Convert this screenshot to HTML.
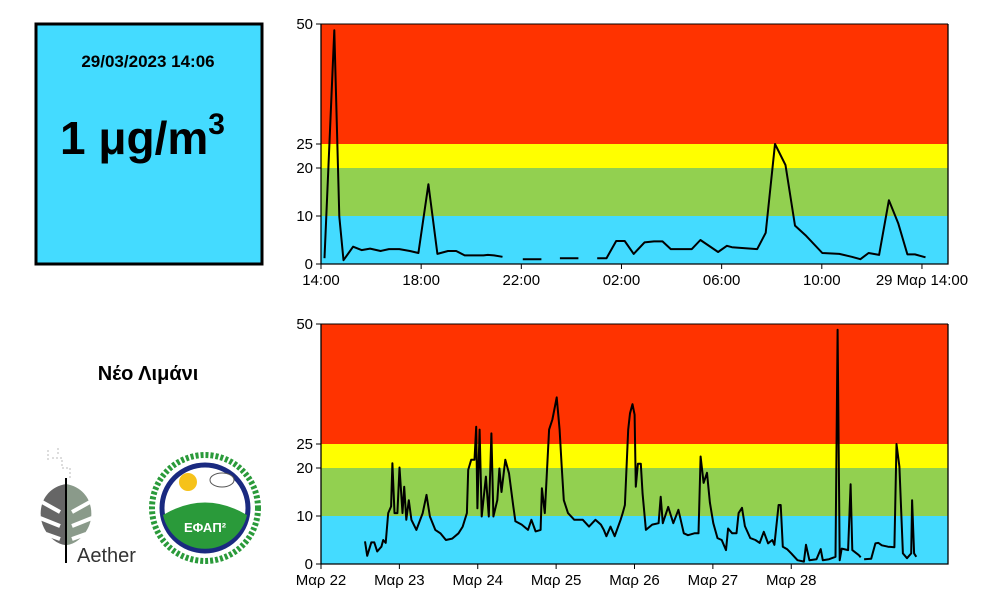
<!DOCTYPE html>
<html><head><meta charset="utf-8">
<style>
body{margin:0;width:1000px;height:600px;background:#fff;overflow:hidden;font-family:"Liberation Sans",sans-serif;}
svg text{font-family:"Liberation Sans","DejaVu Sans",sans-serif;}
</style></head>
<body>
<svg id="svg" width="1000" height="600" xmlns="http://www.w3.org/2000/svg">
  <g>
    <rect x="36" y="24" width="226" height="240" fill="#44dbff" stroke="#000" stroke-width="3"/>
    <text x="148" y="67" font-size="17" font-weight="bold" text-anchor="middle">29/03/2023 14:06</text>
    <text x="60" y="154" font-size="46" font-weight="bold">1 μg/m<tspan font-size="30" dy="-20">3</tspan></text>
  </g>
  <text x="148" y="380" font-size="20" font-weight="bold" text-anchor="middle">Νέο Λιμάνι</text>
  <g>
    <g stroke="#bbb" stroke-width="1" stroke-dasharray="2,2" fill="none">
      <path d="M48 450 v12 M52 458 h10 v8 M58 448 v8 M62 468 h8 v10"/>
    </g>
    <path d="M66 484 C42 488 36 512 44 528 C50 540 60 545 66 545 Z" fill="#666"/>
    <path d="M66 484 C90 488 96 512 88 528 C82 540 72 545 66 545 Z" fill="#8a9a8a"/>
    <g stroke="#fff" stroke-width="4" fill="none">
      <path d="M42 502 L60 512 M40 518 L60 526 M46 534 L60 539 M90 502 L72 512 M92 518 L72 526 M86 534 L72 539"/>
    </g>
    <line x1="66" y1="478" x2="66" y2="563" stroke="#000" stroke-width="2"/>
    <text x="77" y="562" font-size="20" fill="#333">Aether</text>
  </g>
  <g>
    <circle cx="205" cy="508" r="43" fill="#fff" stroke="#1a2a80" stroke-width="5"/>
    <path d="M163 515 Q205 490 247 515 A43 43 0 0 1 163 515 Z" fill="#2a9a3a"/>
    <circle cx="188" cy="482" r="9" fill="#f6c21a"/>
    <ellipse cx="222" cy="480" rx="12" ry="7" fill="#fff" stroke="#555" stroke-width="1"/>
    <text x="205" y="532" font-size="13" font-weight="bold" fill="#fff" text-anchor="middle">ΕΦΑΠ²</text>
    <circle cx="205" cy="508" r="53" fill="none" stroke="#2a9a3a" stroke-width="6" stroke-dasharray="3,2"/>
  </g>
  <g id="top"></g>
  <g id="bot"></g>
</svg>
<script>
// Top chart data: hours after 14:00 (28 Mar) and PM values (null = gap)
const topHours = [0.14,0.53,0.73,0.90,1.28,1.62,1.96,2.38,2.71,3.13,3.55,3.89,4.29,4.65,5.07,5.40,5.74,6.49,6.66,6.91,7.25,null,8.06,8.80,null,9.54,10.28,null,11.03,11.40,11.79,12.13,12.49,12.92,13.30,13.64,13.97,14.81,15.15,15.86,16.21,16.41,17.42,17.76,18.13,18.55,18.93,19.35,20.02,20.70,21.20,21.54,21.87,22.29,22.68,23.05,23.42,23.72,24.14];
const topValues = [1.2,48.7,9.9,0.8,3.6,2.9,3.2,2.7,3.1,3.1,2.7,2.3,16.6,2.1,2.7,2.7,1.8,1.8,1.9,1.8,1.5,null,1.0,1.0,null,1.2,1.2,null,1.2,1.2,4.8,4.8,2.1,4.5,4.7,4.7,3.1,3.1,5.0,2.5,3.8,3.5,3.1,6.5,25.0,20.6,8.0,6.0,2.3,2.1,1.5,1.0,2.3,1.9,13.3,8.5,2.0,2.0,1.4];
const topTickHours = [0,4,8,12,16,20,24];
const topTickLabels = ["14:00","18:00","22:00","02:00","06:00","10:00","29 Μαρ 14:00"];
// Bottom chart data: days after 22 Mar 00:00
const botDays = [0.562,0.589,0.642,0.680,0.717,0.771,0.793,0.825,0.857,0.895,0.911,0.938,0.975,1.002,1.040,1.061,1.088,1.120,1.153,1.217,1.298,1.346,1.389,1.459,1.524,1.593,1.674,1.755,1.808,1.862,1.878,1.916,1.959,1.980,1.996,2.023,2.050,2.104,2.141,2.174,2.200,2.249,2.276,2.303,2.351,2.399,2.453,2.480,2.561,2.641,2.684,2.738,2.802,2.818,2.856,2.910,2.953,3.007,3.044,3.071,3.098,3.152,3.232,3.340,3.420,3.501,3.571,3.608,3.641,3.694,3.748,3.823,3.850,3.877,3.920,3.942,3.974,4.001,4.017,4.044,4.081,4.103,4.146,4.226,4.307,4.334,4.361,4.430,4.495,4.560,4.629,4.683,4.764,4.817,4.844,4.882,4.925,4.962,5.005,5.059,5.113,5.167,5.194,5.247,5.301,5.328,5.371,5.409,5.478,5.543,5.597,5.650,5.704,5.758,5.785,5.838,5.865,5.892,5.946,6.000,6.080,6.161,6.188,6.231,6.322,6.376,6.403,6.483,6.564,6.591,6.618,6.644,6.725,6.757,6.779,6.859,6.886,null,6.929,7.020,7.074,7.112,7.155,7.235,7.316,7.343,7.380,7.424,7.477,7.531,7.542,7.568,7.595];
const botValues = [4.7,1.7,4.5,4.5,2.6,3.6,5.0,4.4,10.6,12.0,21.0,10.6,10.6,20.1,10.6,16.1,9.2,13.3,9.2,7.1,10.6,14.4,9.9,7.1,6.4,5.0,5.3,6.4,7.8,10.6,19.6,21.7,21.7,28.6,11.6,28.0,9.9,18.2,9.9,27.2,9.9,13.3,19.9,15.0,21.7,18.9,12.0,8.9,8.2,7.1,9.2,6.8,7.1,15.8,10.6,28.0,30.1,34.7,28.0,20.3,13.3,10.6,9.2,9.2,7.8,9.2,8.2,7.1,5.8,7.8,5.8,9.2,10.6,12.3,28.0,31.4,33.3,31.1,16.1,20.9,20.9,14.6,7.1,8.2,8.5,14.0,8.5,11.9,8.5,11.3,6.4,6.0,6.4,6.4,22.4,16.9,19.0,12.8,8.5,5.4,5.0,2.9,7.4,6.4,6.4,10.6,11.7,7.9,5.4,5.0,4.4,6.7,4.3,5.0,4.0,12.3,12.3,3.6,3.1,2.2,0.8,0.5,4.0,0.8,1.0,3.1,0.8,1.0,1.5,48.8,0.8,3.2,2.9,16.6,2.9,1.9,1.4,null,1.0,1.1,4.3,4.4,3.9,3.6,3.5,25.0,20.3,2.2,1.2,2.2,13.3,2.2,1.5];
const botTickDays = [0,1,2,3,4,5,6];
const botTickLabels = ["Μαρ 22","Μαρ 23","Μαρ 24","Μαρ 25","Μαρ 26","Μαρ 27","Μαρ 28"];
const yTicks = [0,10,20,25,50];
const bandEdges = [0,10,20,25,50];
const bandColors = ["#44dbff","#92d050","#ffff00","#ff3300"];

const NS="http://www.w3.org/2000/svg";
function mk(tag,attrs,parent){const e=document.createElementNS(NS,tag);for(const k in attrs)e.setAttribute(k,attrs[k]);parent.appendChild(e);return e;}

function chart(g,top,xs,ys,xMax,ticks,labels,lineW){
  const L=321,R=948,B=top+240;
  const sx=v=>L+v/xMax*(R-L);
  const sy=v=>B-v/50*240;
  for(let i=0;i<bandColors.length;i++){
    const r=mk('rect',{x:L,y:sy(bandEdges[i+1]),width:R-L,height:sy(bandEdges[i])-sy(bandEdges[i+1]),fill:bandColors[i]},g);
    
    
  }
  let d='',pen=false;
  for(let i=0;i<xs.length;i++){
    if(xs[i]===null||ys[i]===null){pen=false;continue;}
    d+=(pen?'L':'M')+sx(xs[i]).toFixed(1)+' '+sy(ys[i]).toFixed(1)+' ';pen=true;
  }
  const p=mk('path',{d:d,fill:'none',stroke:'#000','stroke-width':lineW,'stroke-linejoin':'round'},g);
  
  
  mk('path',{d:`M${L} ${top} V${B} H${R} V${top}`,fill:'none',stroke:'#000','stroke-width':1.3},g);
  mk('line',{x1:L,y1:top,x2:R,y2:top,stroke:'#000','stroke-width':1},g);
  yTicks.forEach(t=>{
    mk('line',{x1:L-5,y1:sy(t),x2:L,y2:sy(t),stroke:'#000','stroke-width':1},g);
    const tx=mk('text',{x:L-8,y:sy(t)+5,'font-size':15,'text-anchor':'end'},g);
    tx.textContent=t;
    
    
  });
  ticks.forEach((t,i)=>{
    mk('line',{x1:sx(t),y1:B,x2:sx(t),y2:B+5,stroke:'#000','stroke-width':1},g);
    const tx=mk('text',{x:sx(t),y:B+21,'font-size':15,'text-anchor':'middle'},g);
    tx.textContent=labels[i];
    
    
  });
}
chart(document.getElementById('top'),24,topHours,topValues,25.04,topTickHours,topTickLabels,2);
chart(document.getElementById('bot'),324,botDays,botValues,8.0,botTickDays,botTickLabels,2);
</script>
</body></html>
